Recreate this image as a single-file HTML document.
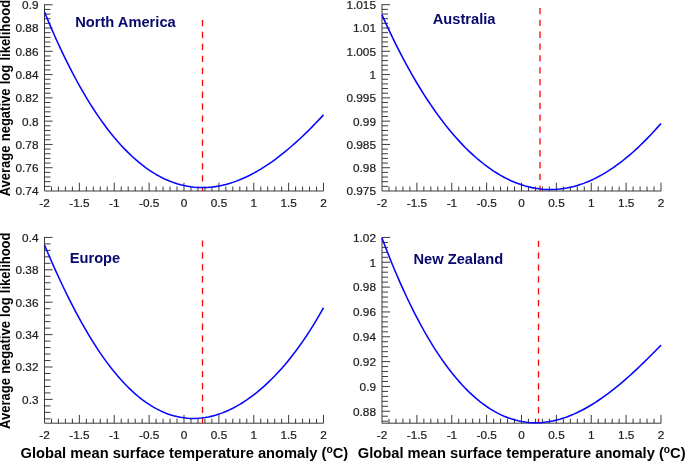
<!DOCTYPE html>
<html><head><meta charset="utf-8"><title>Average negative log likelihood</title>
<style>
html,body{margin:0;padding:0;background:#fff;}
body{width:685px;height:461px;overflow:hidden;}
svg{display:block;font-family:"Liberation Sans",sans-serif;}
.tk{font-size:11.8px;fill:#1c1c1c;stroke:#1c1c1c;stroke-width:0.22px;}
.ti{font-size:14.67px;font-weight:bold;fill:#08086c;}
.xt{font-size:14.7px;font-weight:bold;fill:#000;}
.yt{font-size:13px;font-weight:bold;fill:#000;word-spacing:0.65px;}
.ax{stroke:#2a2a2a;stroke-width:0.92;fill:none;}
.cv{stroke:#0505ff;stroke-width:1.55;fill:none;stroke-linejoin:round;}
.rd{stroke:#f00;stroke-width:1.3;fill:none;}
</style></head><body>
<svg width="685" height="461" viewBox="0 0 685 461">
<rect width="685" height="461" fill="#fff"/>
<path class="ax" d="M44.5 4.25V191.0H323.50M51.48 191.0v-4.5M58.45 191.0v-4.5M65.42 191.0v-4.5M72.40 191.0v-4.5M79.38 191.0v-8.3M86.35 191.0v-4.5M93.33 191.0v-4.5M100.30 191.0v-4.5M107.28 191.0v-4.5M114.25 191.0v-8.3M121.22 191.0v-4.5M128.20 191.0v-4.5M135.18 191.0v-4.5M142.15 191.0v-4.5M149.12 191.0v-8.3M156.10 191.0v-4.5M163.07 191.0v-4.5M170.05 191.0v-4.5M177.03 191.0v-4.5M184.00 191.0v-8.3M190.97 191.0v-4.5M197.95 191.0v-4.5M204.93 191.0v-4.5M211.90 191.0v-4.5M218.88 191.0v-8.3M225.85 191.0v-4.5M232.82 191.0v-4.5M239.80 191.0v-4.5M246.78 191.0v-4.5M253.75 191.0v-8.3M260.73 191.0v-4.5M267.70 191.0v-4.5M274.68 191.0v-4.5M281.65 191.0v-4.5M288.62 191.0v-8.3M295.60 191.0v-4.5M302.57 191.0v-4.5M309.55 191.0v-4.5M316.52 191.0v-4.5M323.50 191.0v-8.3M44.5 4.75h8.1M44.5 9.41h6.0M44.5 14.06h6.0M44.5 18.72h6.0M44.5 23.37h6.0M44.5 28.03h8.1M44.5 32.69h6.0M44.5 37.34h6.0M44.5 42.00h6.0M44.5 46.65h6.0M44.5 51.31h8.1M44.5 55.97h6.0M44.5 60.62h6.0M44.5 65.28h6.0M44.5 69.93h6.0M44.5 74.59h8.1M44.5 79.25h6.0M44.5 83.90h6.0M44.5 88.56h6.0M44.5 93.21h6.0M44.5 97.87h8.1M44.5 102.53h6.0M44.5 107.18h6.0M44.5 111.84h6.0M44.5 116.49h6.0M44.5 121.15h8.1M44.5 125.81h6.0M44.5 130.46h6.0M44.5 135.12h6.0M44.5 139.77h6.0M44.5 144.43h8.1M44.5 149.09h6.0M44.5 153.74h6.0M44.5 158.40h6.0M44.5 163.05h6.0M44.5 167.71h8.1M44.5 172.37h6.0M44.5 177.02h6.0M44.5 181.68h6.0M44.5 186.33h6.0"/>
<path class="rd" stroke-dasharray="6.3 5.65" d="M202.5 19.9V191.0"/>
<path class="cv" d="M44.50 12.00 L47.99 20.42 L51.47 28.60 L54.96 36.53 L58.45 44.23 L61.94 51.69 L65.42 58.92 L68.91 65.93 L72.40 72.70 L75.89 79.26 L79.38 85.59 L82.86 91.71 L86.35 97.61 L89.84 103.30 L93.33 108.78 L96.81 114.06 L100.30 119.13 L103.79 124.00 L107.27 128.67 L110.76 133.15 L114.25 137.43 L117.74 141.51 L121.23 145.41 L124.71 149.12 L128.20 152.65 L131.69 155.99 L135.18 159.16 L138.66 162.14 L142.15 164.95 L145.64 167.58 L149.12 170.04 L152.61 172.33 L156.10 174.45 L159.59 176.41 L163.08 178.20 L166.56 179.83 L170.05 181.30 L173.54 182.61 L177.03 183.76 L180.51 184.76 L184.00 185.60 L187.49 186.30 L190.97 186.84 L194.46 187.24 L197.95 187.49 L201.44 187.60 L204.93 187.56 L208.41 187.38 L211.90 187.07 L215.39 186.62 L218.88 186.03 L222.36 185.32 L225.85 184.47 L229.34 183.49 L232.83 182.38 L236.31 181.14 L239.80 179.79 L243.29 178.31 L246.78 176.71 L250.26 174.99 L253.75 173.15 L257.24 171.20 L260.73 169.13 L264.21 166.96 L267.70 164.67 L271.19 162.28 L274.68 159.78 L278.16 157.18 L281.65 154.48 L285.14 151.67 L288.62 148.77 L292.11 145.78 L295.60 142.69 L299.09 139.50 L302.58 136.23 L306.06 132.88 L309.55 129.43 L313.04 125.91 L316.53 122.31 L320.01 118.62 L323.50 114.86"/>
<g class="tk"><text transform="translate(38.5 9.10) scale(1 1.0)" text-anchor="end">0.9</text><text transform="translate(38.5 32.38) scale(1 1.0)" text-anchor="end">0.88</text><text transform="translate(38.5 55.66) scale(1 1.0)" text-anchor="end">0.86</text><text transform="translate(38.5 78.94) scale(1 1.0)" text-anchor="end">0.84</text><text transform="translate(38.5 102.22) scale(1 1.0)" text-anchor="end">0.82</text><text transform="translate(38.5 125.50) scale(1 1.0)" text-anchor="end">0.8</text><text transform="translate(38.5 148.78) scale(1 1.0)" text-anchor="end">0.78</text><text transform="translate(38.5 172.06) scale(1 1.0)" text-anchor="end">0.76</text><text transform="translate(38.5 195.34) scale(1 1.0)" text-anchor="end">0.74</text><text transform="translate(44.6 206.9) scale(1 1.0)" text-anchor="middle">-2</text><text transform="translate(79.5 206.9) scale(1 1.0)" text-anchor="middle">-1.5</text><text transform="translate(114.3 206.9) scale(1 1.0)" text-anchor="middle">-1</text><text transform="translate(149.2 206.9) scale(1 1.0)" text-anchor="middle">-0.5</text><text transform="translate(184.1 206.9) scale(1 1.0)" text-anchor="middle">0</text><text transform="translate(219.0 206.9) scale(1 1.0)" text-anchor="middle">0.5</text><text transform="translate(253.8 206.9) scale(1 1.0)" text-anchor="middle">1</text><text transform="translate(288.7 206.9) scale(1 1.0)" text-anchor="middle">1.5</text><text transform="translate(323.6 206.9) scale(1 1.0)" text-anchor="middle">2</text></g>
<text class="ti" transform="translate(75.2 27.0) scale(1 1.06)">North America</text>
<path class="ax" d="M382.0 4.2V191.0H661.00M388.98 191.0v-4.5M395.95 191.0v-4.5M402.93 191.0v-4.5M409.90 191.0v-4.5M416.88 191.0v-8.3M423.85 191.0v-4.5M430.82 191.0v-4.5M437.80 191.0v-4.5M444.77 191.0v-4.5M451.75 191.0v-8.3M458.73 191.0v-4.5M465.70 191.0v-4.5M472.68 191.0v-4.5M479.65 191.0v-4.5M486.62 191.0v-8.3M493.60 191.0v-4.5M500.57 191.0v-4.5M507.55 191.0v-4.5M514.52 191.0v-4.5M521.50 191.0v-8.3M528.48 191.0v-4.5M535.45 191.0v-4.5M542.42 191.0v-4.5M549.40 191.0v-4.5M556.38 191.0v-8.3M563.35 191.0v-4.5M570.33 191.0v-4.5M577.30 191.0v-4.5M584.27 191.0v-4.5M591.25 191.0v-8.3M598.23 191.0v-4.5M605.20 191.0v-4.5M612.17 191.0v-4.5M619.15 191.0v-4.5M626.12 191.0v-8.3M633.10 191.0v-4.5M640.08 191.0v-4.5M647.05 191.0v-4.5M654.02 191.0v-4.5M661.00 191.0v-8.3M382.0 4.70h8.1M382.0 9.36h6.0M382.0 14.02h6.0M382.0 18.67h6.0M382.0 23.33h6.0M382.0 27.99h8.1M382.0 32.65h6.0M382.0 37.31h6.0M382.0 41.96h6.0M382.0 46.62h6.0M382.0 51.28h8.1M382.0 55.94h6.0M382.0 60.60h6.0M382.0 65.25h6.0M382.0 69.91h6.0M382.0 74.57h8.1M382.0 79.23h6.0M382.0 83.89h6.0M382.0 88.54h6.0M382.0 93.20h6.0M382.0 97.86h8.1M382.0 102.52h6.0M382.0 107.18h6.0M382.0 111.83h6.0M382.0 116.49h6.0M382.0 121.15h8.1M382.0 125.81h6.0M382.0 130.47h6.0M382.0 135.12h6.0M382.0 139.78h6.0M382.0 144.44h8.1M382.0 149.10h6.0M382.0 153.76h6.0M382.0 158.41h6.0M382.0 163.07h6.0M382.0 167.73h8.1M382.0 172.39h6.0M382.0 177.05h6.0M382.0 181.70h6.0M382.0 186.36h6.0"/>
<path class="rd" stroke-dasharray="6.3 5.55" d="M540.0 7.9V191.0"/>
<path class="cv" d="M382.00 14.90 L385.49 22.63 L388.98 30.14 L392.46 37.45 L395.95 44.55 L399.44 51.44 L402.93 58.14 L406.41 64.64 L409.90 70.95 L413.39 77.07 L416.88 83.01 L420.36 88.76 L423.85 94.33 L427.34 99.72 L430.83 104.94 L434.31 109.98 L437.80 114.86 L441.29 119.56 L444.77 124.10 L448.26 128.47 L451.75 132.68 L455.24 136.73 L458.73 140.62 L462.21 144.35 L465.70 147.93 L469.19 151.35 L472.68 154.61 L476.16 157.73 L479.65 160.69 L483.14 163.50 L486.62 166.17 L490.11 168.68 L493.60 171.05 L497.09 173.27 L500.57 175.35 L504.06 177.28 L507.55 179.07 L511.04 180.72 L514.52 182.22 L518.01 183.58 L521.50 184.80 L524.99 185.88 L528.48 186.82 L531.96 187.62 L535.45 188.28 L538.94 188.80 L542.43 189.18 L545.91 189.43 L549.40 189.53 L552.89 189.50 L556.38 189.33 L559.86 189.03 L563.35 188.59 L566.84 188.01 L570.33 187.30 L573.81 186.46 L577.30 185.48 L580.79 184.36 L584.27 183.12 L587.76 181.74 L591.25 180.22 L594.74 178.58 L598.23 176.80 L601.71 174.90 L605.20 172.86 L608.69 170.70 L612.18 168.41 L615.66 165.99 L619.15 163.44 L622.64 160.77 L626.12 157.97 L629.61 155.05 L633.10 152.01 L636.59 148.84 L640.08 145.56 L643.56 142.16 L647.05 138.64 L650.54 135.00 L654.03 131.26 L657.51 127.39 L661.00 123.42"/>
<g class="tk"><text transform="translate(376.0 9.05) scale(1 1.0)" text-anchor="end">1.015</text><text transform="translate(376.0 32.34) scale(1 1.0)" text-anchor="end">1.01</text><text transform="translate(376.0 55.63) scale(1 1.0)" text-anchor="end">1.005</text><text transform="translate(376.0 78.92) scale(1 1.0)" text-anchor="end">1</text><text transform="translate(376.0 102.21) scale(1 1.0)" text-anchor="end">0.995</text><text transform="translate(376.0 125.50) scale(1 1.0)" text-anchor="end">0.99</text><text transform="translate(376.0 148.79) scale(1 1.0)" text-anchor="end">0.985</text><text transform="translate(376.0 172.08) scale(1 1.0)" text-anchor="end">0.98</text><text transform="translate(376.0 195.37) scale(1 1.0)" text-anchor="end">0.975</text><text transform="translate(382.1 206.9) scale(1 1.0)" text-anchor="middle">-2</text><text transform="translate(417.0 206.9) scale(1 1.0)" text-anchor="middle">-1.5</text><text transform="translate(451.9 206.9) scale(1 1.0)" text-anchor="middle">-1</text><text transform="translate(486.7 206.9) scale(1 1.0)" text-anchor="middle">-0.5</text><text transform="translate(521.6 206.9) scale(1 1.0)" text-anchor="middle">0</text><text transform="translate(556.5 206.9) scale(1 1.0)" text-anchor="middle">0.5</text><text transform="translate(591.4 206.9) scale(1 1.0)" text-anchor="middle">1</text><text transform="translate(626.2 206.9) scale(1 1.0)" text-anchor="middle">1.5</text><text transform="translate(661.1 206.9) scale(1 1.0)" text-anchor="middle">2</text></g>
<text class="ti" transform="translate(432.7 24.0) scale(1 1.06)">Australia</text>
<path class="ax" d="M44.5 236.9V423.2H323.50M51.48 423.2v-4.5M58.45 423.2v-4.5M65.42 423.2v-4.5M72.40 423.2v-4.5M79.38 423.2v-8.3M86.35 423.2v-4.5M93.33 423.2v-4.5M100.30 423.2v-4.5M107.28 423.2v-4.5M114.25 423.2v-8.3M121.22 423.2v-4.5M128.20 423.2v-4.5M135.18 423.2v-4.5M142.15 423.2v-4.5M149.12 423.2v-8.3M156.10 423.2v-4.5M163.07 423.2v-4.5M170.05 423.2v-4.5M177.03 423.2v-4.5M184.00 423.2v-8.3M190.97 423.2v-4.5M197.95 423.2v-4.5M204.93 423.2v-4.5M211.90 423.2v-4.5M218.88 423.2v-8.3M225.85 423.2v-4.5M232.82 423.2v-4.5M239.80 423.2v-4.5M246.78 423.2v-4.5M253.75 423.2v-8.3M260.73 423.2v-4.5M267.70 423.2v-4.5M274.68 423.2v-4.5M281.65 423.2v-4.5M288.62 423.2v-8.3M295.60 423.2v-4.5M302.57 423.2v-4.5M309.55 423.2v-4.5M316.52 423.2v-4.5M323.50 423.2v-8.3M44.5 237.40h8.1M44.5 243.88h6.0M44.5 250.36h6.0M44.5 256.84h6.0M44.5 263.32h6.0M44.5 269.80h8.1M44.5 276.28h6.0M44.5 282.76h6.0M44.5 289.24h6.0M44.5 295.72h6.0M44.5 302.20h8.1M44.5 308.68h6.0M44.5 315.16h6.0M44.5 321.64h6.0M44.5 328.12h6.0M44.5 334.60h8.1M44.5 341.08h6.0M44.5 347.56h6.0M44.5 354.04h6.0M44.5 360.52h6.0M44.5 367.00h8.1M44.5 373.48h6.0M44.5 379.96h6.0M44.5 386.44h6.0M44.5 392.92h6.0M44.5 399.40h8.1M44.5 405.88h6.0M44.5 412.36h6.0M44.5 418.84h6.0"/>
<path class="rd" stroke-dasharray="6.3 5.57" d="M202.5 240.5V423.2"/>
<path class="cv" d="M44.50 244.95 L47.99 253.18 L51.47 261.22 L54.96 269.08 L58.45 276.76 L61.94 284.23 L65.42 291.51 L68.91 298.59 L72.40 305.47 L75.89 312.15 L79.38 318.62 L82.86 324.89 L86.35 330.94 L89.84 336.79 L93.33 342.43 L96.81 347.86 L100.30 353.08 L103.79 358.09 L107.27 362.89 L110.76 367.48 L114.25 371.86 L117.74 376.03 L121.23 380.00 L124.71 383.76 L128.20 387.32 L131.69 390.67 L135.18 393.82 L138.66 396.77 L142.15 399.53 L145.64 402.08 L149.12 404.45 L152.61 406.62 L156.10 408.60 L159.59 410.39 L163.08 411.99 L166.56 413.42 L170.05 414.66 L173.54 415.72 L177.03 416.60 L180.51 417.31 L184.00 417.84 L187.49 418.20 L190.97 418.40 L194.46 418.43 L197.95 418.29 L201.44 417.99 L204.93 417.53 L208.41 416.91 L211.90 416.13 L215.39 415.20 L218.88 414.11 L222.36 412.86 L225.85 411.47 L229.34 409.92 L232.83 408.22 L236.31 406.37 L239.80 404.37 L243.29 402.22 L246.78 399.91 L250.26 397.46 L253.75 394.86 L257.24 392.11 L260.73 389.20 L264.21 386.14 L267.70 382.92 L271.19 379.54 L274.68 376.01 L278.16 372.31 L281.65 368.45 L285.14 364.42 L288.62 360.22 L292.11 355.84 L295.60 351.29 L299.09 346.55 L302.58 341.62 L306.06 336.50 L309.55 331.17 L313.04 325.64 L316.53 319.90 L320.01 313.94 L323.50 307.75"/>
<g class="tk"><text transform="translate(38.5 241.75) scale(1 1.0)" text-anchor="end">0.4</text><text transform="translate(38.5 274.15) scale(1 1.0)" text-anchor="end">0.38</text><text transform="translate(38.5 306.55) scale(1 1.0)" text-anchor="end">0.36</text><text transform="translate(38.5 338.95) scale(1 1.0)" text-anchor="end">0.34</text><text transform="translate(38.5 371.35) scale(1 1.0)" text-anchor="end">0.32</text><text transform="translate(38.5 403.75) scale(1 1.0)" text-anchor="end">0.3</text><text transform="translate(44.6 439.1) scale(1 1.0)" text-anchor="middle">-2</text><text transform="translate(79.5 439.1) scale(1 1.0)" text-anchor="middle">-1.5</text><text transform="translate(114.3 439.1) scale(1 1.0)" text-anchor="middle">-1</text><text transform="translate(149.2 439.1) scale(1 1.0)" text-anchor="middle">-0.5</text><text transform="translate(184.1 439.1) scale(1 1.0)" text-anchor="middle">0</text><text transform="translate(219.0 439.1) scale(1 1.0)" text-anchor="middle">0.5</text><text transform="translate(253.8 439.1) scale(1 1.0)" text-anchor="middle">1</text><text transform="translate(288.7 439.1) scale(1 1.0)" text-anchor="middle">1.5</text><text transform="translate(323.6 439.1) scale(1 1.0)" text-anchor="middle">2</text></g>
<text class="ti" transform="translate(69.7 262.5) scale(1 1.06)">Europe</text>
<path class="ax" d="M382.0 236.95V423.2H661.00M388.98 423.2v-4.5M395.95 423.2v-4.5M402.93 423.2v-4.5M409.90 423.2v-4.5M416.88 423.2v-8.3M423.85 423.2v-4.5M430.82 423.2v-4.5M437.80 423.2v-4.5M444.77 423.2v-4.5M451.75 423.2v-8.3M458.73 423.2v-4.5M465.70 423.2v-4.5M472.68 423.2v-4.5M479.65 423.2v-4.5M486.62 423.2v-8.3M493.60 423.2v-4.5M500.57 423.2v-4.5M507.55 423.2v-4.5M514.52 423.2v-4.5M521.50 423.2v-8.3M528.48 423.2v-4.5M535.45 423.2v-4.5M542.42 423.2v-4.5M549.40 423.2v-4.5M556.38 423.2v-8.3M563.35 423.2v-4.5M570.33 423.2v-4.5M577.30 423.2v-4.5M584.27 423.2v-4.5M591.25 423.2v-8.3M598.23 423.2v-4.5M605.20 423.2v-4.5M612.17 423.2v-4.5M619.15 423.2v-4.5M626.12 423.2v-8.3M633.10 423.2v-4.5M640.08 423.2v-4.5M647.05 423.2v-4.5M654.02 423.2v-4.5M661.00 423.2v-8.3M382.0 237.45h8.1M382.0 242.42h6.0M382.0 247.38h6.0M382.0 252.35h6.0M382.0 257.31h6.0M382.0 262.28h8.1M382.0 267.25h6.0M382.0 272.21h6.0M382.0 277.18h6.0M382.0 282.14h6.0M382.0 287.11h8.1M382.0 292.08h6.0M382.0 297.04h6.0M382.0 302.01h6.0M382.0 306.97h6.0M382.0 311.94h8.1M382.0 316.91h6.0M382.0 321.87h6.0M382.0 326.84h6.0M382.0 331.80h6.0M382.0 336.77h8.1M382.0 341.74h6.0M382.0 346.70h6.0M382.0 351.67h6.0M382.0 356.63h6.0M382.0 361.60h8.1M382.0 366.57h6.0M382.0 371.53h6.0M382.0 376.50h6.0M382.0 381.46h6.0M382.0 386.43h8.1M382.0 391.40h6.0M382.0 396.36h6.0M382.0 401.33h6.0M382.0 406.29h6.0M382.0 411.26h8.1M382.0 416.23h6.0M382.0 421.19h6.0"/>
<path class="rd" stroke-dasharray="6.3 5.57" d="M538.5 240.7V423.2"/>
<path class="cv" d="M382.00 238.08 L385.49 247.23 L388.98 256.11 L392.46 264.71 L395.95 273.05 L399.44 281.12 L402.93 288.93 L406.41 296.48 L409.90 303.78 L413.39 310.83 L416.88 317.63 L420.36 324.18 L423.85 330.50 L427.34 336.58 L430.83 342.42 L434.31 348.04 L437.80 353.42 L441.29 358.59 L444.77 363.52 L448.26 368.24 L451.75 372.75 L455.24 377.04 L458.73 381.12 L462.21 384.99 L465.70 388.66 L469.19 392.12 L472.68 395.38 L476.16 398.45 L479.65 401.32 L483.14 404.00 L486.62 406.49 L490.11 408.79 L493.60 410.91 L497.09 412.84 L500.57 414.59 L504.06 416.17 L507.55 417.57 L511.04 418.80 L514.52 419.86 L518.01 420.75 L521.50 421.47 L524.99 422.03 L528.48 422.43 L531.96 422.67 L535.45 422.75 L538.94 422.68 L542.43 422.46 L545.91 422.10 L549.40 421.58 L552.89 420.92 L556.38 420.12 L559.86 419.19 L563.35 418.11 L566.84 416.91 L570.33 415.57 L573.81 414.11 L577.30 412.52 L580.79 410.81 L584.27 408.97 L587.76 407.03 L591.25 404.97 L594.74 402.80 L598.23 400.52 L601.71 398.14 L605.20 395.65 L608.69 393.07 L612.18 390.40 L615.66 387.63 L619.15 384.78 L622.64 381.84 L626.12 378.82 L629.61 375.73 L633.10 372.56 L636.59 369.32 L640.08 366.02 L643.56 362.66 L647.05 359.24 L650.54 355.77 L654.03 352.25 L657.51 348.69 L661.00 345.09"/>
<g class="tk"><text transform="translate(376.0 241.80) scale(1 1.0)" text-anchor="end">1.02</text><text transform="translate(376.0 266.63) scale(1 1.0)" text-anchor="end">1</text><text transform="translate(376.0 291.46) scale(1 1.0)" text-anchor="end">0.98</text><text transform="translate(376.0 316.29) scale(1 1.0)" text-anchor="end">0.96</text><text transform="translate(376.0 341.12) scale(1 1.0)" text-anchor="end">0.94</text><text transform="translate(376.0 365.95) scale(1 1.0)" text-anchor="end">0.92</text><text transform="translate(376.0 390.78) scale(1 1.0)" text-anchor="end">0.9</text><text transform="translate(376.0 415.61) scale(1 1.0)" text-anchor="end">0.88</text><text transform="translate(382.1 439.1) scale(1 1.0)" text-anchor="middle">-2</text><text transform="translate(417.0 439.1) scale(1 1.0)" text-anchor="middle">-1.5</text><text transform="translate(451.9 439.1) scale(1 1.0)" text-anchor="middle">-1</text><text transform="translate(486.7 439.1) scale(1 1.0)" text-anchor="middle">-0.5</text><text transform="translate(521.6 439.1) scale(1 1.0)" text-anchor="middle">0</text><text transform="translate(556.5 439.1) scale(1 1.0)" text-anchor="middle">0.5</text><text transform="translate(591.4 439.1) scale(1 1.0)" text-anchor="middle">1</text><text transform="translate(626.2 439.1) scale(1 1.0)" text-anchor="middle">1.5</text><text transform="translate(661.1 439.1) scale(1 1.0)" text-anchor="middle">2</text></g>
<text class="ti" transform="translate(413.5 263.6) scale(1 1.06)">New Zealand</text>
<text class="xt" transform="translate(20.5 457.6) scale(1 1.045)">Global mean surface temperature anomaly (<tspan font-size="10.3px" dy="-4.0">o</tspan><tspan dy="4.0">C)</tspan></text>
<text class="xt" transform="translate(357.8 457.6) scale(1 1.045)">Global mean surface temperature anomaly (<tspan font-size="10.3px" dy="-4.0">o</tspan><tspan dy="4.0">C)</tspan></text>
<text class="yt" transform="translate(10.2 196.3) rotate(-90) scale(1 1.07)">Average negative log likelihood</text>
<text class="yt" transform="translate(10.2 428.9) rotate(-90) scale(1 1.07)">Average negative log likelihood</text>
</svg></body></html>
